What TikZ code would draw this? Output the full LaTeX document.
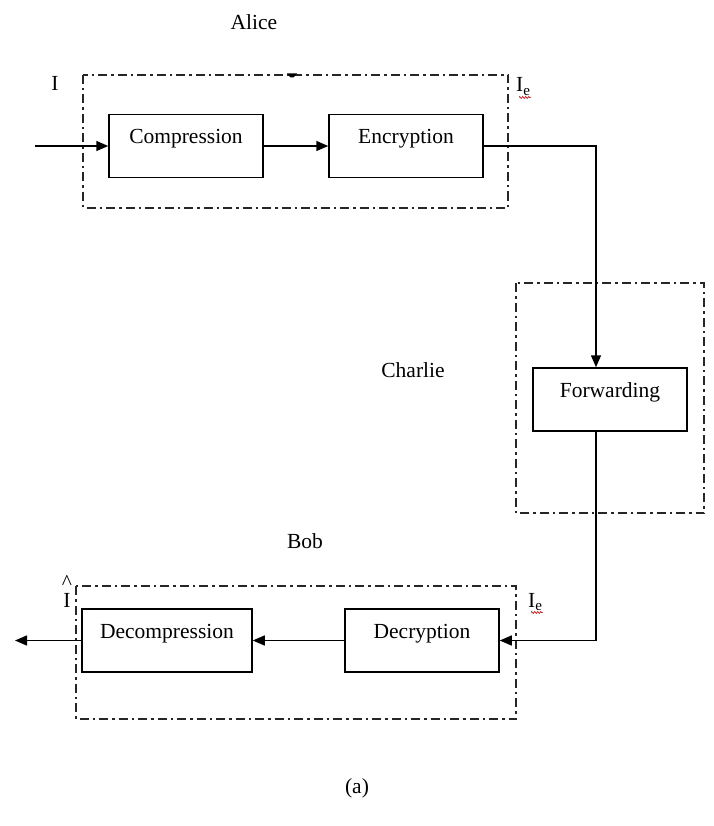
\documentclass[tikz,border=0pt]{standalone}
\usepackage{fontspec}
\setmainfont{Liberation Serif}
\usetikzlibrary{arrows.meta,decorations.pathmorphing}

\begin{document}
\begin{tikzpicture}[x=1pt,y=-1pt,
  blk/.style={draw, line width=1.5pt, minimum width=154pt, minimum height=63pt,
    inner sep=0pt, text height=10pt, text depth=15pt,
    font=\fontsize{21.5}{24}\selectfont},
  grp/.style={draw=black!85, line width=1.7pt,
    dash pattern=on 9pt off 4pt on 2.5pt off 4pt},
  lbl/.style={font=\fontsize{21.5}{24}\selectfont, inner sep=0pt, anchor=base},
  link/.style={line width=1.5pt, -{Triangle[length=12pt,width=10pt]}},
  squig/.style={red!75!black, line width=0.6pt, decorate,
    decoration={zigzag, amplitude=1pt, segment length=3pt}}
]
\useasboundingbox (0,0) rectangle (713,826);

% group frames
\draw[grp] (83,75) rectangle (508,208);
\draw[grp] (516,283) rectangle (704,513);
\draw[grp] (76,586) rectangle (516,719);
\fill (287,73.5) -- (297,73.5) -- (293.5,77.5) -- (290.5,77.5) -- cycle;

% processing blocks
\node[blk] (comp) at (186,146) {Compression};
\node[blk] (enc) at (406,146) {Encryption};
\node[blk] (fwd) at (610,399.5) {Forwarding};
\node[blk] (dec) at (422,640.5) {Decryption};
\node[blk, minimum width=170pt] (decomp) at (167,640.5) {Decompression};

% party names and signals
\node[lbl] (alice) at (254,30) {Alice};
\node[lbl] (charlie) at (413,377) {Charlie};
\node[lbl] (bob) at (305,548) {Bob};
\node[lbl] (inp) at (55,91) {I};
\node[lbl, anchor=base west] (ie1) at (516,92) {I\textsubscript{e}};
\draw[squig] ([xshift=3pt,yshift=-2pt]ie1.south west) -- ([yshift=-2pt]ie1.south east);
\node[lbl] (ihat) at (67,607) {\shortstack{\textasciicircum\\I}};
\node[lbl, anchor=base west] (ie2) at (528,607) {I\textsubscript{e}};
\draw[squig] ([xshift=3pt,yshift=-2pt]ie2.south west) -- ([yshift=-2pt]ie2.south east);
\node[lbl] (cap) at (357,793) {(a)};

% signal flow
\coordinate (src) at (35,146);
\coordinate (sink) at (15,640.5);
\draw[link] (src) -- (comp.west);
\draw[link] (comp.east) -- (enc.west);
\draw[link] (enc.east) -| ([xshift=-14pt]fwd.north);
\draw[link] ([xshift=-14pt]fwd.south) |- (dec.east);
\draw[link] (dec.west) -- (decomp.east);
\draw[link] (decomp.west) -- (sink);
\end{tikzpicture}
\end{document}
